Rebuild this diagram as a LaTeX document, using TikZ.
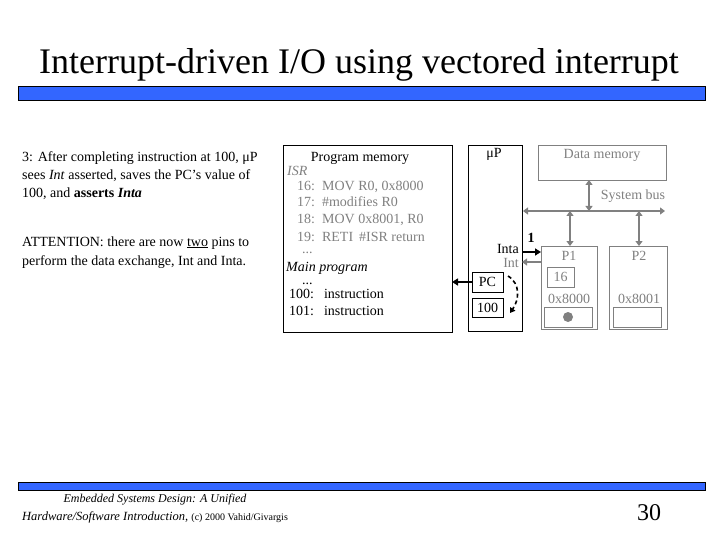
\documentclass[tikz,border=0pt]{standalone}
\usepackage{fontspec}
\setmainfont{Liberation Serif}
\usetikzlibrary{arrows.meta}
\definecolor{barblue}{RGB}{51,102,255}
\definecolor{gr}{RGB}{128,128,128}
\begin{document}
\begin{tikzpicture}[x=1pt,y=-1pt,
  box/.style={draw, inner sep=0pt, outer sep=0pt, anchor=north west, font=\fontsize{14}{16}\selectfont},
  gbox/.style={box, draw=gr, text=gr},
  txt/.style={inner sep=0pt, anchor=base west, font=\fontsize{14}{16}\selectfont},
  ctxt/.style={txt, anchor=base},
  rtxt/.style={txt, anchor=base east},
  gtxt/.style={txt, text=gr},
  gctxt/.style={ctxt, text=gr},
  bar/.style={draw=black, fill=barblue, inner sep=0pt, outer sep=0pt, anchor=north west, minimum width=687pt},
  busarrow/.style={draw=gr, line width=1.6pt, {Triangle[length=5pt,width=7pt]}-{Triangle[length=5pt,width=7pt]}},
]
\useasboundingbox (0,0) rectangle (720,540);

% title and bars
\node[inner sep=0pt, anchor=base, font=\fontsize{36}{40}\selectfont] (title) at (359,74) {Interrupt-driven I/O using vectored interrupt};
\node[bar, minimum height=14pt] (bar1) at (18,86) {};
\node[bar, minimum height=8pt] (bar2) at (18,482) {};

% left text
\node[txt] (l1) at (22,162) {3: After completing instruction at 100, μP};
\node[txt] (l2) at (22,180) {sees \textit{Int} asserted, saves the PC’s value of};
\node[txt] (l3) at (22,198) {100, and \textbf{asserts \textit{Inta}}};
\node[txt] (l4) at (22,246) {ATTENTION: there are now \underline{two} pins to};
\node[txt] (l5) at (22,265) {perform the data exchange, Int and Inta.};

% program memory
\node[box, minimum width=169pt, minimum height=187pt] (pm) at (283,145) {};
\node[ctxt] (pmt) at (360,162) {Program memory};
\node[gtxt] (isr) at (287,176) {\textit{ISR}};
\node[gtxt] (i16) at (297,191) {16:\hspace{7pt}MOV R0, 0x8000};
\node[gtxt] (i17) at (297,207) {17:\hspace{7pt}\#modifies R0};
\node[gtxt] (i18) at (297,224) {18:\hspace{7pt}MOV 0x8001, R0};
\node[gtxt] (i19) at (297,241) {19:\hspace{7pt}RETI\hspace{6pt}\#ISR return};
\node[gtxt] (d1) at (302,254) {...};
\node[txt] (mp) at (286,271) {\textit{Main program}};
\node[txt] (d2) at (302,284) {...};
\node[txt] (m100) at (289,298) {100:\hspace{10pt}instruction};
\node[txt] (m101) at (289,315) {101:\hspace{10pt}instruction};

% microprocessor
\node[box, minimum width=54pt, minimum height=186pt] (up) at (468,145) {};
\node[ctxt] (upt) at (494,158) {μP};
\node[box, minimum width=31pt, minimum height=20pt] (pc) at (472,272) {PC};
\node[box, minimum width=31pt, minimum height=19pt] (v100) at (472,298) {100};
\node[rtxt] (inta) at (519,254) {Inta};
\node[rtxt, text=gr] (int) at (519,267) {Int};

% data memory and bus
\node[gbox, minimum width=128pt, minimum height=35pt] (dm) at (538,145) {};
\node[gctxt] (dmt) at (602,159) {Data memory};
\node[gctxt] (sbt) at (633,200) {System bus};
\coordinate (busL) at (523,211);
\coordinate (busR) at (665,211);
\coordinate (j1) at (589,211);
\coordinate (j2) at (570,211);
\coordinate (j3) at (639,211);
\coordinate (ptop) at (0,246);
\draw[busarrow] (busL) -- (busR);
\draw[busarrow] (j1) -- (j1 |- dm.south);
\draw[busarrow] (j2) -- (j2 |- ptop);
\draw[busarrow] (j3) -- (j3 |- ptop);

% peripherals
\node[gbox, minimum width=56pt, minimum height=83pt] (p1) at (541,246) {};
\node[gbox, minimum width=58pt, minimum height=83pt] (p2) at (609,246) {};
\node[gctxt] (p1t) at (569,260) {P1};
\node[gctxt] (p2t) at (639,260) {P2};
\node[gbox, minimum width=27pt, minimum height=20pt] (r16) at (547,267) {16};
\node[gctxt] (a8000) at (569,303) {0x8000};
\node[gctxt] (a8001) at (639,303) {0x8001};
\node[gbox, minimum width=48pt, minimum height=20pt] (r8000) at (544,307) {};
\node[gbox, minimum width=48pt, minimum height=20pt] (r8001) at (613,307) {};
\node[circle, fill=gr, minimum size=10pt, inner sep=0pt] (dot) at (r8000.center) {};

% Inta / Int
\coordinate (yinta) at (0,252);
\coordinate (yint) at (0,262);
\draw[line width=2pt, -{Triangle[length=6pt,width=7pt]}] (up.east |- yinta) -- (p1.west |- yinta);
\node[inner sep=0pt, anchor=base, font=\fontsize{14}{16}\selectfont\bfseries] (one) at (531,242) {1};
\draw[draw=gr, line width=1.6pt, -{Triangle[length=5pt,width=7pt]}] (p1.west |- yint) -- (up.east |- yint);

% PC to program memory
\draw[line width=1.6pt, -{Triangle[length=6pt,width=7pt]}] (pc.west) -- (pc.west -| pm.east);

% dashed transfer
\coordinate (ds) at (508,276);
\coordinate (de) at (510,313);
\draw[line width=1.6pt, dash pattern=on 4pt off 3pt, -{Triangle[length=5pt,width=6pt]}] (ds) .. controls (521,284) and (519,300) .. (de);

% footer
\node[inner sep=0pt, anchor=base, font=\fontsize{12}{14}\selectfont\itshape] (f1) at (155,502) {Embedded Systems Design: A Unified};
\node[inner sep=0pt, anchor=base, font=\fontsize{12.5}{14}\selectfont] (f2) at (155,520) {\textit{Hardware/Software Introduction,} {\fontsize{10}{12}\selectfont (c) 2000 Vahid/Givargis}};
\node[inner sep=0pt, anchor=base, font=\fontsize{24}{28}\selectfont] (num) at (649,520) {30};
\end{tikzpicture}
\end{document}
